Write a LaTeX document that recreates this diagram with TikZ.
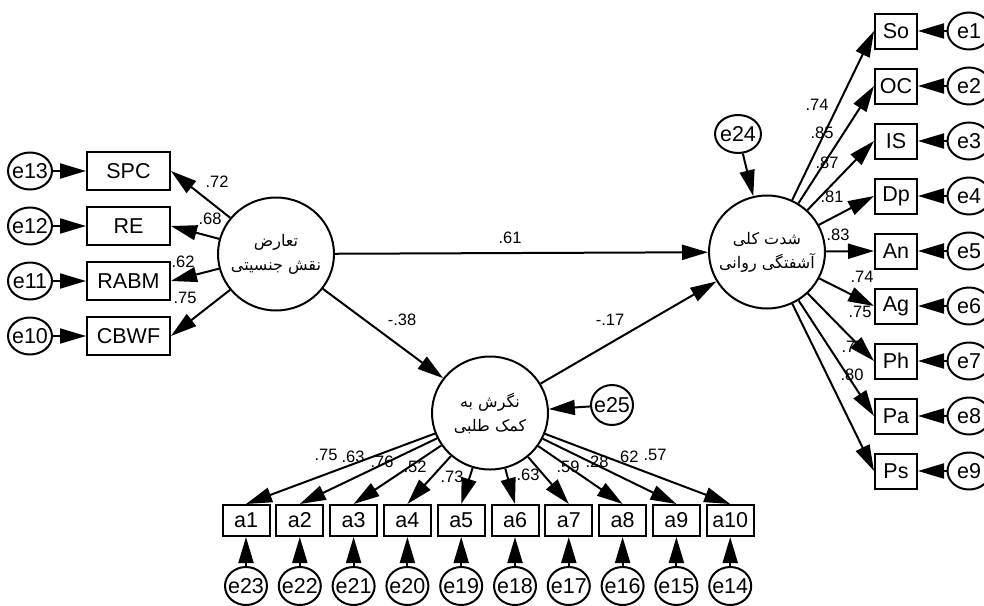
\documentclass[tikz,border=0pt]{standalone}
\usepackage{fontspec}
\setmainfont{Liberation Sans}
\newfontfamily\fa[Script=Arabic]{DejaVu Sans}
\TeXXeTstate=1
\usetikzlibrary{arrows.meta,shapes.geometric}
\newcommand\ename[1]{\makebox[0pt]{e#1}}
\newcommand\faline[1]{\makebox[0pt]{\beginR #1\endR}}
\begin{document}
\begin{tikzpicture}[x=1pt,y=-1pt,
  lat/.style={draw,ellipse,line width=2pt,minimum width=116pt,minimum height=113pt,inner sep=0pt,align=center,font=\fa\fontsize{16}{24}\selectfont},
  obsL/.style={draw,rectangle,line width=2pt,minimum width=83pt,minimum height=38pt,inner sep=0pt,font=\fontsize{21.5}{21.5}\selectfont},
  obsR/.style={draw,rectangle,line width=2pt,minimum width=42pt,minimum height=35pt,inner sep=0pt,font=\fontsize{21.5}{21.5}\selectfont},
  obsB/.style={draw,rectangle,line width=2pt,minimum width=47pt,minimum height=31pt,inner sep=0pt,font=\fontsize{21.5}{21.5}\selectfont},
  err/.style={draw,ellipse,line width=2pt,minimum width=43pt,minimum height=37pt,inner sep=0pt,font=\fontsize{21.5}{21.5}\selectfont},
  lbl/.style={inner sep=0pt,font=\fontsize{16.5}{16.5}\selectfont},
  arr/.style={line width=2pt,-{Triangle[length=26pt,width=15pt]}}
]
\useasboundingbox (0,0) rectangle (984,605);

% latent variables
\node[lat] (L) at (276,254) {\faline{تعارض}\\\faline{نقش جنسیتی}};
\node[lat] (R) at (767,252) {\faline{شدت کلی}\\\faline{آشفتگی روانی}};
\node[lat] (B) at (490,413) {\faline{نگرش به}\\\faline{کمک طلبی}};

% left indicators
\node[obsL] (SPC) at (128.5,171) {SPC};
\node[obsL] (RE) at (128.5,226) {RE};
\node[obsL] (RABM) at (128.5,281) {RABM};
\node[obsL] (CBWF) at (128.5,336) {CBWF};
\node[err,minimum width=44pt] (e13) at (30,171) {\ename{13}};
\node[err,minimum width=44pt] (e12) at (30,226) {\ename{12}};
\node[err,minimum width=44pt] (e11) at (30,281) {\ename{11}};
\node[err,minimum width=44pt] (e10) at (30,336) {\ename{10}};

% right indicators
\node[obsR] (So) at (896,31) {So};
\node[obsR] (OC) at (896,86) {OC};
\node[obsR] (IS) at (896,141) {IS};
\node[obsR] (Dp) at (896,196) {Dp};
\node[obsR] (An) at (896,251) {An};
\node[obsR] (Ag) at (896,306) {Ag};
\node[obsR] (Ph) at (896,361) {Ph};
\node[obsR] (Pa) at (896,416) {Pa};
\node[obsR] (Ps) at (896,471) {Ps};
\node[err] (e1) at (969,31) {\ename{1}};
\node[err] (e2) at (969,86) {\ename{2}};
\node[err] (e3) at (969,141) {\ename{3}};
\node[err] (e4) at (969,196) {\ename{4}};
\node[err] (e5) at (969,251) {\ename{5}};
\node[err] (e6) at (969,306) {\ename{6}};
\node[err] (e7) at (969,361) {\ename{7}};
\node[err] (e8) at (969,416) {\ename{8}};
\node[err] (e9) at (969,471) {\ename{9}};

% disturbances
\node[err,minimum width=46pt,minimum height=38pt] (e24) at (738,134) {\ename{24}};
\node[err,minimum width=42pt,minimum height=40pt] (e25) at (612,405) {\ename{25}};

% bottom indicators
\node[obsB] (a1) at (246,520.5) {a1};
\node[obsB] (a2) at (299.8,520.5) {a2};
\node[obsB] (a3) at (353.6,520.5) {a3};
\node[obsB] (a4) at (407.4,520.5) {a4};
\node[obsB] (a5) at (461.2,520.5) {a5};
\node[obsB] (a6) at (515,520.5) {a6};
\node[obsB] (a7) at (568.8,520.5) {a7};
\node[obsB] (a8) at (622.6,520.5) {a8};
\node[obsB] (a9) at (676.4,520.5) {a9};
\node[obsB] (a10) at (730.2,520.5) {a10};
\node[err,minimum width=42pt,minimum height=38pt] (e23) at (246,586) {\ename{23}};
\node[err,minimum width=42pt,minimum height=38pt] (e22) at (299.8,586) {\ename{22}};
\node[err,minimum width=42pt,minimum height=38pt] (e21) at (353.6,586) {\ename{21}};
\node[err,minimum width=42pt,minimum height=38pt] (e20) at (407.4,586) {\ename{20}};
\node[err,minimum width=42pt,minimum height=38pt] (e19) at (461.2,586) {\ename{19}};
\node[err,minimum width=42pt,minimum height=38pt] (e18) at (515,586) {\ename{18}};
\node[err,minimum width=42pt,minimum height=38pt] (e17) at (568.8,586) {\ename{17}};
\node[err,minimum width=42pt,minimum height=38pt] (e16) at (622.6,586) {\ename{16}};
\node[err,minimum width=42pt,minimum height=38pt] (e15) at (676.4,586) {\ename{15}};
\node[err,minimum width=42pt,minimum height=38pt] (e14) at (730.2,586) {\ename{14}};

% coefficient labels
\node[lbl] (p1) at (510,238) {.61};
\node[lbl] (p2) at (402,320) {-.38};
\node[lbl] (p3) at (610,320) {-.17};
\node[lbl] (l1) at (217,182) {.72};
\node[lbl] (l2) at (210,219) {.68};
\node[lbl] (l3) at (183,262) {.62};
\node[lbl] (l4) at (185,298) {.75};
\node[lbl] (r1) at (817,105) {.74};
\node[lbl] (r2) at (822,133) {.85};
\node[lbl] (r3) at (827,163) {.87};
\node[lbl] (r4) at (832,197) {.81};
\node[lbl] (r5) at (838,235) {.83};
\node[lbl] (r6) at (862,277) {.74};
\node[lbl] (r7) at (860,312) {.75};
\node[lbl] (r8) at (853,347) {.77};
\node[lbl] (r9) at (852,375) {.80};
\node[lbl] (b1) at (326,455) {.75};
\node[lbl] (b2) at (353,457) {.63};
\node[lbl] (b3) at (382,462) {.76};
\node[lbl] (b4) at (415,467) {.52};
\node[lbl] (b5) at (452,477) {.73};
\node[lbl] (b6) at (528,475) {.63};
\node[lbl] (b7) at (568,467) {.59};
\node[lbl] (b8) at (597,462) {.28};
\node[lbl] (b9) at (627,457) {.62};
\node[lbl] (b10) at (655,455) {.57};

% structural paths
\draw[arr] (L) -- (R);
\draw[arr] (L) -- (B);
\draw[arr] (B) -- (R);
\draw[arr] (e24) -- (R);
\draw[arr] (e25) -- (B);

% left measurement
\foreach \o/\e in {SPC/e13,RE/e12,RABM/e11,CBWF/e10}{
  \draw[arr] (L) -- (\o.east);
  \draw[arr] (\e) -- (\o.west);
}
% right measurement
\foreach \o/\e in {So/e1,OC/e2,IS/e3,Dp/e4,An/e5,Ag/e6,Ph/e7,Pa/e8,Ps/e9}{
  \draw[arr] (R) -- (\o.west);
  \draw[arr] (\e) -- (\o.east);
}
% bottom measurement
\foreach \o/\e in {a1/e23,a2/e22,a3/e21,a4/e20,a5/e19,a6/e18,a7/e17,a8/e16,a9/e15,a10/e14}{
  \draw[arr] (B) -- (\o.north);
  \draw[arr] (\e) -- (\o.south);
}
\end{tikzpicture}
\end{document}
